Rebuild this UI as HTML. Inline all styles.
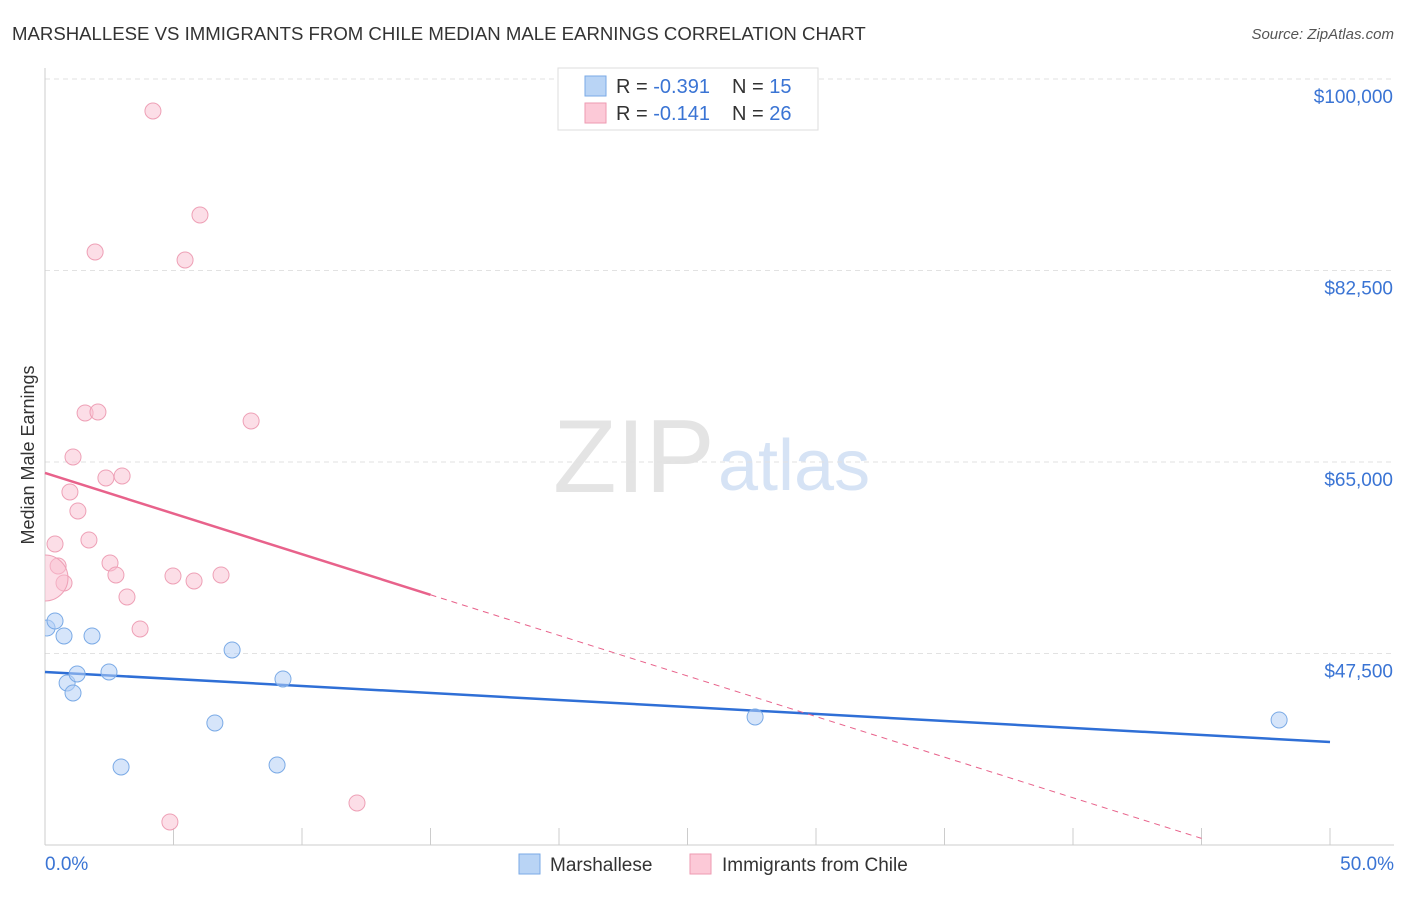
<!DOCTYPE html>
<html><head><meta charset="utf-8"><style>
body{margin:0;background:#fff;font-family:"Liberation Sans",sans-serif;}
svg text{font-family:"Liberation Sans",sans-serif;}
</style></head><body>
<svg id="chart" width="1406" height="892">
<defs><clipPath id="plotclip"><rect x="45" y="60" width="1360" height="786"/></clipPath></defs>
<text x="12" y="40" font-size="18.6" fill="#333">MARSHALLESE VS IMMIGRANTS FROM CHILE MEDIAN MALE EARNINGS CORRELATION CHART</text>
<text x="1394" y="39" font-size="15" fill="#555" text-anchor="end" font-style="italic">Source: ZipAtlas.com</text>
<text x="553" y="492" font-size="104" fill="#e4e4e4" font-family="Liberation Serif">ZIP</text>
<text x="718" y="490" font-size="72" fill="#d6e3f5">atlas</text>
<text x="34" y="455" font-size="18" fill="#333" text-anchor="middle" transform="rotate(-90 34 455)">Median Male Earnings</text>
<g id="grid"></g><g id="axes"></g><g id="lines"></g><g id="pts" clip-path="url(#plotclip)"></g>
<g>
<rect x="558" y="68" width="260" height="62" fill="#fff" stroke="#ddd"/>
<rect x="585" y="76" width="21" height="20" fill="#b9d4f5" stroke="#7aaae6"/>
<rect x="585" y="103" width="21" height="20" fill="#fcc9d7" stroke="#ee9ab2"/>
<text x="616" y="93" font-size="20" fill="#333">R = <tspan fill="#3a74d4">-0.391</tspan></text>
<text x="732" y="93" font-size="20" fill="#333">N = <tspan fill="#3a74d4"> 15</tspan></text>
<text x="616" y="120" font-size="20" fill="#333">R = <tspan fill="#3a74d4"> -0.141</tspan></text>
<text x="732" y="120" font-size="20" fill="#333">N = <tspan fill="#3a74d4">26</tspan></text>
</g>
<g>
<rect x="519" y="854" width="21" height="20" fill="#b9d4f5" stroke="#7aaae6"/>
<text x="550" y="871" font-size="19" fill="#333">Marshallese</text>
<rect x="690" y="854" width="21" height="20" fill="#fcc9d7" stroke="#ee9ab2"/>
<text x="722" y="871" font-size="19" fill="#333">Immigrants from Chile</text>
</g>
</svg>
<script>
const yTicks=[47500,65000,82500,100000];
const yTickLabels=["$47,500","$65,000","$82,500","$100,000"];
const xTickLabels=["0.0%","50.0%"];
const blueX=[0.08,0.39,0.74,1.83,0.86,1.25,1.09,2.49,2.96,6.61,7.28,9.03,9.26,27.63,48.02];
const blueY=[49832,50472,49102,49102,44806,45629,43893,45812,37131,41151,47822,37313,45172,41700,41425];
const pinkX=[4.20,6.03,1.95,5.45,1.56,2.06,8.02,1.09,2.37,3.00,0.97,1.28,0.39,1.71,0.51,2.53,2.76,0.74,3.19,4.98,5.80,6.85,3.70,4.86,12.14,0];
const pinkY=[97076,87572,84191,83460,69479,69570,68748,65458,63539,63722,62260,60524,57508,57874,55498,55772,54675,53944,52665,54584,54127,54675,49741,32105,33841,54401];
const blueTrend=[45812,39416];
const pinkTrend=[63996,26896];
const X=v=>45+v/50*1285;
const Y=v=>79+(100000-v)/17500*191.5;
const NS="http://www.w3.org/2000/svg";
function mk(p,t,a){const e=document.createElementNS(NS,t);for(const k in a)e.setAttribute(k,a[k]);document.getElementById(p).appendChild(e);return e;}
yTicks.forEach((v,i)=>{
 const g=mk('grid','line',{x1:45,x2:1394,y1:Y(v),y2:Y(v),stroke:'#e2e2e2','stroke-dasharray':'5,4'});
 
 
 const t=mk('grid','text',{x:1393,y:Y(v)+24,'font-size':19,fill:'#3a74d4','text-anchor':'end'});
 t.textContent=yTickLabels[i];
 
 
});
const ax=mk('axes','line',{x1:45,x2:45,y1:68,y2:845,stroke:'#ccc'});


const bx=mk('axes','line',{x1:45,x2:1394,y1:845,y2:845,stroke:'#ccc'});


for(let i=0;i<=10;i++){const tk=mk('axes','line',{x1:X(i*5),x2:X(i*5),y1:828,y2:845,stroke:'#ccc'});
 
 }
[[0,'start',45],[50,'end',1394]].forEach((d,i)=>{const t=mk('axes','text',{x:d[2],y:870,'font-size':19,fill:'#3a74d4','text-anchor':d[1]});t.textContent=xTickLabels[i];
 
 });
const pY=x=>pinkTrend[0]+(pinkTrend[1]-pinkTrend[0])*x/50;
const bl=mk('lines','line',{x1:X(0),y1:Y(blueTrend[0]),x2:X(50),y2:Y(blueTrend[1]),stroke:'#2f6fd6','stroke-width':2.5});


const pl=mk('lines','line',{x1:X(0),y1:Y(pY(0)),x2:X(15),y2:Y(pY(15)),stroke:'#e8628b','stroke-width':2.5});


const pd=mk('lines','line',{x1:X(15),y1:Y(pY(15)),x2:X(45),y2:Y(pY(45)),stroke:'#e8628b','stroke-width':1,'stroke-dasharray':'6,5'});


pinkX.forEach((v,i)=>{const c=mk('pts','circle',{cx:X(v),cy:Y(pinkY[i]),r:i==25?23:8,fill:'rgba(250,190,208,0.5)',stroke:'#eea0b6','stroke-width':1});
 
 });
blueX.forEach((v,i)=>{const c=mk('pts','circle',{cx:X(v),cy:Y(blueY[i]),r:8,fill:'rgba(180,208,245,0.55)',stroke:'#7aaae6','stroke-width':1});
 
 });
</script>
</body></html>
